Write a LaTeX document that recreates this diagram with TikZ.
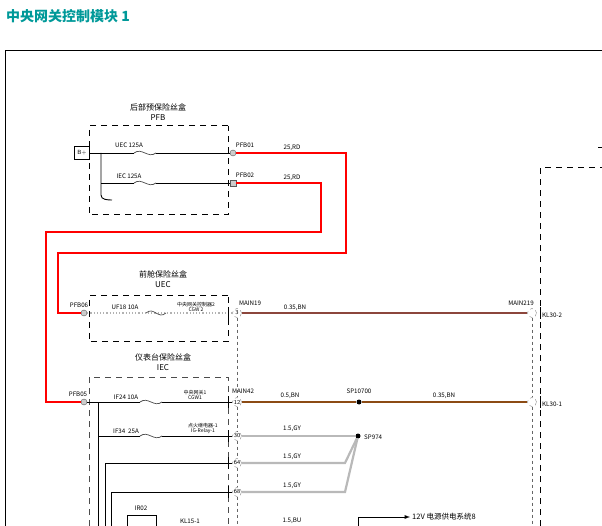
\documentclass[tikz,border=0pt]{standalone}
\usepackage{fontspec}
\setmainfont{Liberation Sans}
\newfontfamily\cjk{Noto Sans CJK SC}
\definecolor{wbn}{RGB}{140,70,60}
\definecolor{wbn2}{RGB}{140,75,20}
\begin{document}
\begin{tikzpicture}[x=1pt,y=-1pt,
 lbl/.style={font=\cjk\fontsize{6.2}{7}\selectfont,inner sep=0},
 tiny/.style={font=\cjk\fontsize{5}{5.6}\selectfont,inner sep=0,align=center},
 ttl/.style={font=\cjk\fontsize{8}{9.5}\selectfont,inner sep=0,align=center},
 box/.style={draw,dash pattern=on 6pt off 5pt,line width=1pt},
 redw/.style={draw=red,line width=2.4pt},
 bn/.style={draw=wbn2,line width=1.8pt},
 rbn/.style={draw=wbn,line width=1.6pt},
 gy/.style={draw=gray!55,line width=2.2pt},
 blk/.style={draw=black,line width=0.9pt},
 fz/.style={draw=black!70,line width=0.7pt},
 conn/.style={circle,draw=gray!70!black,fill=gray!40,minimum size=6pt,inner sep=0},
 pin/.style={font=\sffamily\fontsize{6}{6}\selectfont,circle,draw=gray,dashed,minimum size=9pt,inner sep=0},
 dot/.style={circle,fill=black,minimum size=5pt,inner sep=0}]
\useasboundingbox (0,0) rectangle (602,526);
\node[anchor=west,font=\cjk\bfseries\fontsize{14}{16}\selectfont,text=teal!80!cyan,inner sep=0] (title) at (6,16) {中央网关控制模块 1};
\draw[line width=0.6pt] (5,526) -- (5,50) -- (602,50);
\draw[box] (540,526) -- (540,168) -- (602,168);
\draw[line width=1pt] (598,148) -- (602,148);
% PFB
\node[ttl] (pfbt) at (158,112) {后部预保险丝盒\\PFB};
\draw[box] (228,126) -- (89,126) -- (89,215) -- (228,215) -- cycle;
\node[draw,line width=0.8pt,minimum width=15pt,minimum height=13pt,inner sep=0,font=\sffamily\fontsize{6}{6}\selectfont] (bp) at (82,153) {B+};
\node[conn] (pfb01) at (233,153) {};
\node[conn,rectangle] (pfb02) at (233,183) {};
\draw[blk] (bp) -- (pfb01);
\draw[blk] (101,153) -- (101,195) to[out=-90,in=180] (112,200);
\draw[blk] (101,183) -- (pfb02);
\foreach \y in {153,183}{
 \draw[white,line width=1.4pt] (134,\y) -- (156,\y);
 \draw[fz] (134,\y) .. controls (142,\y-6) and (148,\y+6) .. (156,\y);}
\node[lbl,anchor=south] at (129,148) {UEC 125A};
\node[lbl,anchor=south] at (129,179) {IEC 125A};
\node[lbl,anchor=south] at (245,148) {PFB01};
\node[lbl,anchor=south] at (245,178) {PFB02};
\node[lbl,anchor=south] at (292,151) {25,RD};
\node[lbl,anchor=south] at (292,181) {25,RD};
% UEC
\node[ttl] (uect) at (163,279) {前舱保险丝盒\\UEC};
\draw[box] (228,296) -- (89,296) -- (89,342) -- (228,342) -- cycle;
\node[conn] (pfb06) at (84,313) {};
\node[pin] (m19) at (237,313) {3};
\draw[gray!60,dotted,line width=1.2pt] (pfb06) -- (m19);
\draw[fz] (146,313) .. controls (154,306) and (158,320) .. (166,313);
\node[lbl,anchor=south] at (79,308) {PFB06};
\node[lbl,anchor=south] at (125,310) {UF18 10A};
\node[tiny,anchor=south] at (196,312) {中央网关控制器2\\CGW 2};
\node[lbl,anchor=south] at (250,306) {MAIN19};
\node[pin] (m219) at (532,313) {};
\draw[rbn] (m19) -- (m219);
\node[lbl,anchor=south] at (295,311) {0.35,BN};
\node[lbl,anchor=south] at (521,306) {MAIN219};
\node[lbl,anchor=west] at (542,315) {KL30-2};
% IEC
\node[ttl] (iect) at (163,362) {仪表台保险丝盒\\IEC};
\draw[box,draw=black!70] (89,526) -- (89,377) -- (228,377) -- (228,526);
\node[conn] (pfb05) at (84,402) {};
\node[pin] (m42) at (237,402) {12};
\node[pin] (p30) at (237,436) {30};
\node[pin] (p64) at (237,463) {64};
\node[pin] (p68) at (237,492) {68};
\node[pin] (m42r) at (532,402) {};
\draw[blk] (pfb05) -- (m42);
\draw[blk] (98,402) -- (98,526);
\draw[blk] (98,436) -- (p30);
\foreach \y in {402,436}{
 \draw[white,line width=1.4pt] (140,\y) -- (162,\y);
 \draw[fz] (140,\y) .. controls (148,\y-6) and (154,\y+6) .. (162,\y);}
\draw[blk] (105,526) -- (105,463) -- (p64);
\draw[blk] (111,526) -- (111,492) -- (p68);
\foreach \y in {402,436,463,492} \draw[line width=1pt] (228,\y-6) -- (228,\y+6);
\draw[line width=1pt] (228,307) -- (228,319);
\draw[line width=1pt] (540,307) -- (540,319);
\draw[line width=1pt] (540,396) -- (540,408);
\node[lbl,anchor=south] at (78,397) {PFB05};
\node[lbl,anchor=south] at (126,400) {IF24 10A};
\node[tiny,anchor=south] at (195,400) {中央网关1\\CGW1};
\node[lbl,anchor=south] at (243,394) {MAIN42};
\node[lbl,anchor=south] at (126,434) {IF34\ \ 25A};
\node[tiny,anchor=south] at (203,434) {点火继电器-1\\IG-Relay-1};
\node[dot] (sp107) at (359,402) {};
\node[dot] (sp974) at (358,436) {};
\draw[bn] (m42) -- (sp107) -- (m42r);
\node[lbl,anchor=south] at (359,394) {SP10700};
\node[lbl,anchor=south] at (290,399) {0.5,BN};
\node[lbl,anchor=south] at (444,399) {0.35,BN};
\node[lbl,anchor=west] at (542,404) {KL30-1};
\node[lbl,anchor=west] at (364,437) {SP974};
\draw[gy] (p30) -- (sp974);
\draw[gy] (p64) -- (345,463) -- (sp974);
\draw[gy] (p68) -- (345,492) -- (sp974);
\node[lbl,anchor=south] at (292,432) {1.5,GY};
\node[lbl,anchor=south] at (292,460) {1.5,GY};
\node[lbl,anchor=south] at (292,489) {1.5,GY};
\draw[dashed,line width=0.8pt,gray!80!black] (m19) -- (m42) -- (p30) -- (p64) -- (p68) -- (237,526);
\draw[dashed,line width=0.8pt,gray!80!black] (m219) -- (m42r) -- (532,526);
% bottom
\draw[line width=0.9pt] (127,526) -- (127,515) -- (156,515) -- (156,526);
\node[lbl,anchor=south] at (141,511) {IR02};
\node[lbl,anchor=south] at (190,524) {KL15-1};
\node[lbl,anchor=south] at (292,524) {1.5,BU};
\draw[blue!40,line width=1pt] (237,526) -- (358,526);
\coordinate (arr) at (410,517);
\draw[line width=0.9pt,-latex] (358,526) -- (358,517) -- (arr);
\node[font=\cjk\fontsize{7.5}{8}\selectfont,anchor=west,inner sep=0] at (412,517) {12V 电源供电系统8};
% red wires
\draw[redw] (pfb01) -- (346,153) -- (346,253) -- (58,253) -- (58,313) -- (pfb06);
\draw[redw] (pfb02) -- (321,183) -- (321,232) -- (46,232) -- (46,402) -- (pfb05);
\end{tikzpicture}
\end{document}
